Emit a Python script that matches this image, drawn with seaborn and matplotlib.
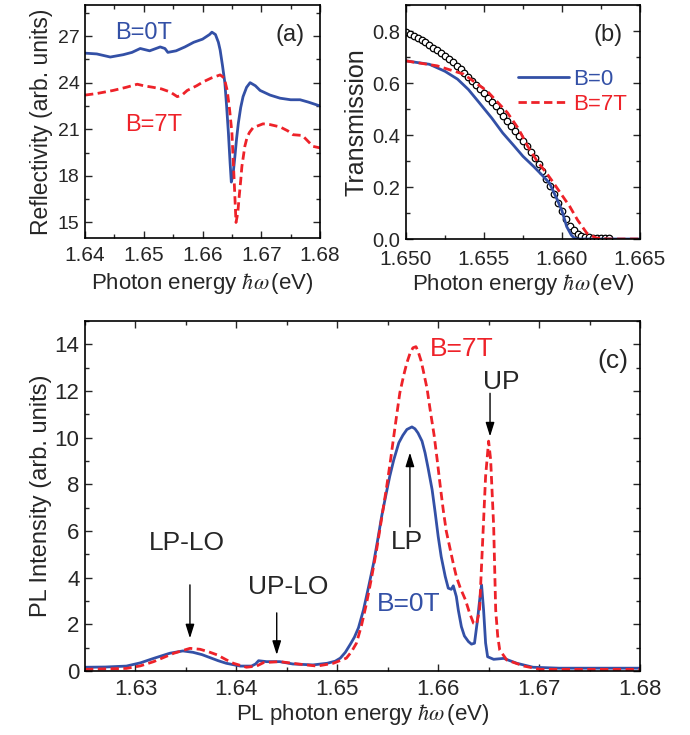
import matplotlib
matplotlib.use("Agg")
import matplotlib.pyplot as plt
from matplotlib.ticker import MultipleLocator, FormatStrFormatter
from matplotlib.lines import Line2D
import seaborn as sns


BLUE = "#3350a6"
RED = "#ee2229"

# (a) reflectivity
refl_e_0 = [1.6400, 1.6420, 1.6443, 1.6465, 1.6480, 1.6494, 1.6510, 1.6528, 1.6536, 1.6541,
            1.6555, 1.6570, 1.6585, 1.6600, 1.6612, 1.6616, 1.6622, 1.6627, 1.6630, 1.6634,
            1.6638, 1.6641, 1.6644, 1.6647, 1.6649, 1.6652, 1.6655, 1.6658, 1.6661, 1.6665,
            1.6669, 1.6675, 1.6681, 1.6690, 1.6698, 1.6715, 1.6732, 1.6750, 1.6766, 1.6780,
            1.6800]
refl_r_0 = [25.9, 25.85, 25.65, 25.8, 25.95, 26.2, 26.05, 26.3, 26.2, 25.95,
            26.05, 26.3, 26.6, 26.8, 27.1, 27.25, 27.1, 26.6, 26.1, 25.1,
            24.0, 22.5, 20.8, 18.8, 17.6, 18.1, 19.2, 20.4, 21.4, 22.4,
            23.1, 23.7, 24.0, 23.8, 23.5, 23.2, 23.0, 22.9, 22.9, 22.75,
            22.5]
refl_e_7 = [1.6400, 1.6420, 1.6448, 1.6470, 1.6489, 1.6500, 1.6516, 1.6530, 1.6545, 1.6557,
            1.6565, 1.6574, 1.6590, 1.6601, 1.6615, 1.6630, 1.6637, 1.6642, 1.6646, 1.6650,
            1.6654, 1.6657, 1.6660, 1.6662, 1.6665, 1.6667, 1.6672, 1.6676, 1.6680, 1.6686,
            1.6703, 1.6715, 1.6732, 1.6745, 1.6754, 1.6770, 1.6788, 1.6800]
refl_r_7 = [23.2, 23.3, 23.5, 23.7, 23.9, 23.8, 23.7, 23.6, 23.4, 23.1,
            23.2, 23.5, 23.8, 24.05, 24.3, 24.5, 24.3, 23.5, 22.3, 20.8,
            17.6, 15.0, 15.6, 16.5, 17.7, 18.6, 19.9, 20.5, 20.8, 21.1,
            21.35, 21.3, 21.15, 20.9, 20.65, 20.6, 19.9, 19.8]

# (b) transmission
trans_e_0 = [1.6500, 1.6515, 1.6525, 1.6533, 1.6540, 1.6547, 1.6555, 1.6562, 1.6569, 1.6575,
             1.6582, 1.6588, 1.6592, 1.6597, 1.6600, 1.6603, 1.6606, 1.6608, 1.6610, 1.6630,
             1.6650]
trans_t_0 = [0.685, 0.672, 0.645, 0.615, 0.575, 0.524, 0.465, 0.408, 0.360, 0.318,
             0.278, 0.241, 0.215, 0.151, 0.108, 0.048, 0.015, 0.003, 0.0, 0.0,
             0.0]
trans_e_7 = [1.6500, 1.6520, 1.6537, 1.6552, 1.6565, 1.6572, 1.6578, 1.6584, 1.6590, 1.6594,
             1.6599, 1.6605, 1.6610, 1.6616, 1.6622, 1.6630, 1.6650]
trans_t_7 = [0.685, 0.666, 0.634, 0.569, 0.486, 0.425, 0.357, 0.300, 0.254, 0.221,
             0.177, 0.125, 0.073, 0.022, 0.004, 0.0, 0.0]
fit_e = [1.6500, 1.65025, 1.6505, 1.65075, 1.6510, 1.65125, 1.6515, 1.65175, 1.6520, 1.65225,
         1.6525, 1.65275, 1.6530, 1.65325, 1.6535, 1.65375, 1.6540, 1.65425, 1.6545, 1.65475,
         1.6550, 1.65525, 1.6555, 1.65575, 1.6560, 1.65625, 1.6565, 1.65675, 1.6570, 1.65725,
         1.6575, 1.65775, 1.6580, 1.65825, 1.6585, 1.65875, 1.6590, 1.65925, 1.6595, 1.65975,
         1.6600, 1.66025, 1.6605, 1.66075, 1.6610, 1.66125, 1.6615, 1.66175, 1.6620, 1.66225,
         1.6625, 1.66275, 1.6630]
fit_t = [0.795, 0.788, 0.780, 0.772, 0.764, 0.756, 0.745, 0.736, 0.726, 0.716,
         0.704, 0.692, 0.680, 0.667, 0.653, 0.638, 0.623, 0.608, 0.592, 0.576,
         0.560, 0.543, 0.527, 0.510, 0.492, 0.474, 0.455, 0.435, 0.415, 0.396,
         0.378, 0.357, 0.335, 0.312, 0.288, 0.262, 0.232, 0.203, 0.172, 0.140,
         0.108, 0.078, 0.052, 0.033, 0.020, 0.012, 0.008, 0.006, 0.005, 0.004,
         0.004, 0.003, 0.003]

# (c) PL
pl_e_0 = [1.6250, 1.6270, 1.6291, 1.6305, 1.6318, 1.6334, 1.6347, 1.6357, 1.6366, 1.6374,
          1.6382, 1.6390, 1.6404, 1.6415, 1.6419, 1.6422, 1.6430, 1.6443, 1.6456, 1.6476,
          1.6490, 1.6498, 1.6503, 1.6508, 1.6513, 1.6517, 1.6521, 1.6526, 1.6531, 1.6536,
          1.6540, 1.6544, 1.6548, 1.6552, 1.6556, 1.6561, 1.6565, 1.6569, 1.6574, 1.6577,
          1.6580, 1.6584, 1.6587, 1.6590, 1.6594, 1.6597, 1.6600, 1.6603, 1.6607, 1.6610,
          1.6613, 1.6615, 1.6618, 1.6620, 1.6623, 1.6626, 1.6630, 1.6633, 1.6636, 1.6639,
          1.6641, 1.6643, 1.6645, 1.6647, 1.6649, 1.6655, 1.6665, 1.6678, 1.6694, 1.6720,
          1.6800]
pl_i_0 = [0.16, 0.17, 0.21, 0.35, 0.54, 0.76, 0.86, 0.80, 0.70, 0.57,
          0.44, 0.33, 0.21, 0.21, 0.30, 0.44, 0.40, 0.40, 0.30, 0.26,
          0.33, 0.42, 0.55, 0.80, 1.15, 1.45, 1.85, 2.62, 3.6, 4.62,
          5.6, 6.63, 7.5, 8.34, 9.05, 9.78, 10.1, 10.35, 10.46, 10.38,
          10.2, 9.85, 9.35, 8.7, 7.77, 6.8, 5.77, 4.9, 4.05, 3.55,
          3.5, 3.65, 3.19, 2.6, 1.90, 1.5, 1.26, 1.15, 1.19, 2.19,
          3.0, 3.69, 2.62, 1.2, 0.61, 0.50, 0.54, 0.33, 0.16, 0.12,
          0.12]
pl_e_7 = [1.6250, 1.6270, 1.6291, 1.6305, 1.6318, 1.6338, 1.6354, 1.6364, 1.6372, 1.6381,
          1.6390, 1.6397, 1.6410, 1.6420, 1.6427, 1.6443, 1.6463, 1.6480, 1.6496, 1.6509,
          1.6514, 1.6519, 1.6524, 1.6529, 1.6534, 1.6539, 1.6544, 1.6549, 1.6553, 1.6556,
          1.6559, 1.6562, 1.6566, 1.6569, 1.6572, 1.6575, 1.6578, 1.6580, 1.6583, 1.6585,
          1.6589, 1.6592, 1.6596, 1.6599, 1.6602, 1.6605, 1.6608, 1.6612, 1.6615, 1.6618,
          1.6622, 1.6627, 1.6631, 1.6635, 1.6638, 1.6641, 1.6644, 1.6647, 1.6650, 1.6652,
          1.6655, 1.6657, 1.6659, 1.6661, 1.6668, 1.6685, 1.6701, 1.6800]
pl_i_7 = [0.07, 0.09, 0.11, 0.22, 0.40, 0.76, 0.97, 0.93, 0.83, 0.69,
          0.48, 0.33, 0.16, 0.21, 0.36, 0.40, 0.29, 0.21, 0.33, 0.55,
          0.82, 1.19, 1.95, 2.9, 4.0, 5.2, 6.55, 7.91, 9.1, 10.06,
          11.0, 11.92, 12.7, 13.21, 13.6, 13.85, 13.9, 13.71, 13.3, 12.92,
          12.1, 11.21, 10.1, 9.06, 7.95, 6.91, 6.0, 5.2, 4.6, 4.05,
          3.55, 3.05, 2.5, 2.05, 2.0, 2.62, 5.48, 8.34, 9.85, 9.06,
          6.2, 2.62, 1.5, 0.9, 0.47, 0.21, 0.07, 0.07]

DASH = (3.0, 1.6)
LW = 2.0


def style_axes(ax, xmaj, xmin, ymaj, ymin, xsize, ysize, xpad=6):
	ax.xaxis.set_major_locator(MultipleLocator(xmaj))
	ax.xaxis.set_minor_locator(MultipleLocator(xmin))
	ax.yaxis.set_major_locator(MultipleLocator(ymaj))
	ax.yaxis.set_minor_locator(MultipleLocator(ymin))
	ax.tick_params(which="both", direction="in", top=True, right=True, width=1.0)
	ax.tick_params(which="major", length=5)
	ax.tick_params(which="minor", length=3)
	ax.tick_params(axis="x", labelsize=xsize, pad=xpad)
	ax.tick_params(axis="y", labelsize=ysize, pad=4)
	for sp in ax.spines.values():
		sp.set_linewidth(1.2)
		sp.set_color("black")


def draw_pair(ax, x0, y0, x7, y7):
	sns.lineplot(x=x0, y=y0, ax=ax, color=BLUE, lw=LW)
	sns.lineplot(x=x7, y=y7, ax=ax, color=RED, lw=LW, linestyle="--")
	ax.lines[-1].set_dashes(DASH)


def main():
	sns.set_theme(style="ticks")
	plt.rcParams["font.family"] = ["Liberation Sans", "DejaVu Sans"]
	plt.rcParams["mathtext.fontset"] = "stix"

	fig = plt.figure(figsize=(6.9, 7.35), dpi=100)
	ax_a = fig.add_axes([0.1232, 0.6762, 0.3406, 0.3170])
	ax_b = fig.add_axes([0.5884, 0.6748, 0.3391, 0.3184])
	ax_c = fig.add_axes([0.1232, 0.0871, 0.8043, 0.4762])

	# (a)
	draw_pair(ax_a, refl_e_0, refl_r_0, refl_e_7, refl_r_7)
	ax_a.set_xlim(1.64, 1.68)
	ax_a.set_ylim(14.0, 29.0)
	style_axes(ax_a, 0.01, 0.005, 3, 1.5, 15, 14)
	ax_a.xaxis.set_major_formatter(FormatStrFormatter("%.2f"))
	ax_a.set_xlabel(r"Photon energy $\hbar\omega\,$(eV)", fontsize=16)
	ax_a.set_ylabel("Reflectivity (arb. units)", fontsize=16.5, labelpad=3)
	ax_a.text(1.6500, 27.2, "B=0T", color=BLUE, fontsize=17, ha="center", va="center")
	ax_a.text(1.6517, 21.3, "B=7T", color=RED, fontsize=17, ha="center", va="center")
	ax_a.text(1.6749, 27.05, "(a)", fontsize=17, ha="center", va="center")

	# (b)
	draw_pair(ax_b, trans_e_0, trans_t_0, trans_e_7, trans_t_7)
	sns.scatterplot(x=fit_e, y=fit_t, ax=ax_b, marker="o", s=22,
					facecolor="white", edgecolor="black", linewidth=0.9, zorder=1)
	ax_b.set_xlim(1.650, 1.665)
	ax_b.set_ylim(0.0, 0.9)
	style_axes(ax_b, 0.005, 0.0025, 0.2, 0.1, 15, 14.5, xpad=8)
	ax_b.xaxis.set_major_formatter(FormatStrFormatter("%.3f"))
	ax_b.yaxis.set_major_formatter(FormatStrFormatter("%.1f"))
	ax_b.set_xlabel(r"Photon energy $\hbar\omega\,$(eV)", fontsize=16, labelpad=2)
	ax_b.set_ylabel("Transmission", fontsize=18, labelpad=3)
	ax_b.text(1.66295, 0.785, "(b)", fontsize=17, ha="center", va="center")
	handles = [Line2D([], [], color=BLUE, lw=LW),
			   Line2D([], [], color=RED, lw=LW, dashes=DASH)]
	leg = ax_b.legend(handles, ["B=0", "B=7T"], frameon=False, fontsize=16,
					  loc="upper right", bbox_to_anchor=(1.0, 0.785),
					  handlelength=2.3, handletextpad=0.15, labelspacing=0.2,
					  borderaxespad=0.2)
	for txt, col in zip(leg.get_texts(), [BLUE, RED]):
		txt.set_color(col)

	# (c)
	draw_pair(ax_c, pl_e_0, pl_i_0, pl_e_7, pl_i_7)
	ax_c.set_xlim(1.625, 1.68)
	ax_c.set_ylim(0, 15)
	style_axes(ax_c, 0.01, 0.005, 2, 1, 16, 16)
	ax_c.xaxis.set_major_formatter(FormatStrFormatter("%.2f"))
	ax_c.set_xlabel(r"PL photon energy $\hbar\omega\,$(eV)", fontsize=16, labelpad=1)
	ax_c.set_ylabel("PL Intensity (arb. units)", fontsize=17, labelpad=2)
	ax_c.text(1.6592, 13.8, "B=7T", color=RED, fontsize=19, ha="left", va="center")
	ax_c.text(1.6571, 2.88, "B=0T", color=BLUE, fontsize=19, ha="center", va="center")
	ax_c.text(1.6773, 13.3, "(c)", fontsize=19, ha="center", va="center")
	arrow = dict(arrowstyle="-|>,head_length=0.7,head_width=0.22", color="black", lw=1.0,
				 shrinkA=0, shrinkB=0)
	ax_c.text(1.6351, 5.5, "LP-LO", fontsize=19, ha="center", va="center")
	ax_c.annotate("", xy=(1.6354, 1.40), xytext=(1.6354, 3.69), arrowprops=arrow)
	ax_c.text(1.6451, 3.6, "UP-LO", fontsize=19, ha="center", va="center")
	ax_c.annotate("", xy=(1.6440, 0.69), xytext=(1.6440, 2.49), arrowprops=arrow)
	ax_c.text(1.6569, 5.54, "LP", fontsize=19, ha="center", va="center")
	ax_c.annotate("", xy=(1.6572, 9.36), xytext=(1.6572, 6.18), arrowprops=arrow)
	ax_c.text(1.6663, 12.4, "UP", fontsize=19, ha="center", va="center")
	ax_c.annotate("", xy=(1.66514, 10.05), xytext=(1.66514, 11.9), arrowprops=arrow)

	fig.savefig("out.png", dpi=100)


if __name__ == "__main__":
	main()
